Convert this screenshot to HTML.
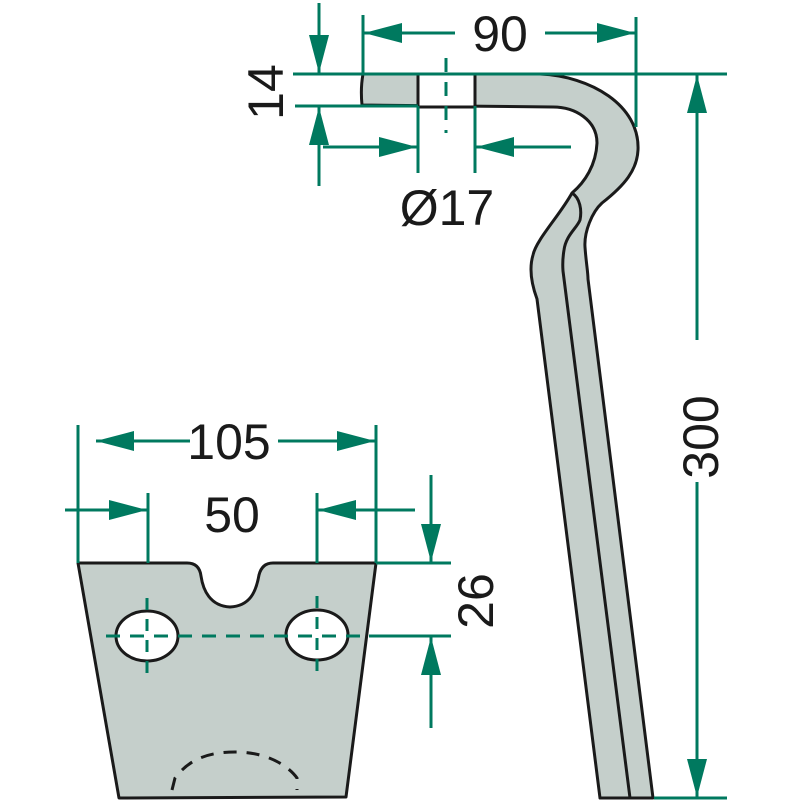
<!DOCTYPE html>
<html><head><meta charset="utf-8"><style>html,body{margin:0;padding:0;background:#fff}svg{display:block}</style></head>
<body>
<svg width="800" height="800" viewBox="0 0 800 800" xmlns="http://www.w3.org/2000/svg">
<defs>
<marker id="a" markerUnits="userSpaceOnUse" markerWidth="40" markerHeight="22" refX="38" refY="10" orient="auto">
<path d="M0,0 L38,10 L0,20 Z" fill="#00795f"/>
</marker>
</defs>
<g fill="#c5cfcb" stroke="#1a1a1a" stroke-width="3" stroke-linejoin="round">
<!-- tine -->
<path d="M363,74 L540,74 C590,76 640,105 638,150 C637,170 625,185 602,203 C592,212 584,232 585,247 C586,262 588,272 588,279 L653,798 L600,798 L537,299 C530,280 530,265 533,255 C536,240 560,215 572,193 C585,182 596,165 597,143 C597,120 575,107 553,107 L362,105 C361,95 361,85 363,74 Z"/>
<path d="M572,193 C580,198 582,210 580,220 C577,228 566,235 564,250 C562,262 563,270 563,271 L630,798" fill="none"/>
<rect x="418" y="74" width="57" height="33" fill="#fff"/>
<!-- plate -->
<path d="M78,563 L187,563 C196,563 200,568 201,576 C203,590 210,606 230,607 C250,606 256,592 259,575 C261,567 266,563 273,563 L376,563 L346,797 L119,798 Z"/>
<ellipse cx="147" cy="636" rx="31" ry="25" fill="#fff"/>
<ellipse cx="317" cy="635" rx="31" ry="25" fill="#fff"/>
</g>
<path d="M172,790 L175,778 C185,765 200,752 235,752 C270,752 290,768 297,778 L297,790" fill="none" stroke="#1a1a1a" stroke-width="3" stroke-dasharray="13,10"/>
<g stroke="#00795f" stroke-width="3" fill="none">
<!-- dashed center lines -->
<path d="M106,636 L362,636" stroke-dasharray="14,10"/>
<path d="M147,598 L147,676 M317,596 L317,676" stroke-dasharray="12,9"/>
<path d="M446,58 L446,133" stroke-dasharray="14,10"/>
<!-- 90 -->
<path d="M363,15 L363,74 M636,17 L636,127"/>
<path d="M455,33 L364,33" marker-end="url(#a)"/>
<path d="M545,33 L635,33" marker-end="url(#a)"/>
<path d="M293,74 L727,74"/>
<path d="M295,106 L418,106"/>
<!-- 14 -->
<path d="M319,3 L319,73" marker-end="url(#a)"/>
<path d="M319,186 L319,107" marker-end="url(#a)"/>
<!-- 17 -->
<path d="M418,106 L418,173 M475,106 L475,173"/>
<path d="M323,147 L417,147" marker-end="url(#a)"/>
<path d="M571,147 L476,147" marker-end="url(#a)"/>
<!-- 300 -->
<path d="M697,340 L697,75" marker-end="url(#a)"/>
<path d="M697,482 L697,797" marker-end="url(#a)"/>
<path d="M654,798 L727,798"/>
<!-- 105 -->
<path d="M78,425 L78,563 M376,425 L376,563"/>
<path d="M190,441 L96,441" marker-end="url(#a)"/>
<path d="M278,441 L375,441" marker-end="url(#a)"/>
<!-- 50 -->
<path d="M148,493 L148,563 M317,493 L317,563"/>
<path d="M65,510 L147,510" marker-end="url(#a)"/>
<path d="M415,510 L318,510" marker-end="url(#a)"/>
<!-- 26 -->
<path d="M376,563 L451,563 M369,636 L451,636"/>
<path d="M431,475 L431,562" marker-end="url(#a)"/>
<path d="M431,728 L431,637" marker-end="url(#a)"/>
</g>
<g font-family="Liberation Sans, sans-serif" font-size="50" fill="#1a1a1a" text-anchor="middle">
<text x="500" y="51">90</text>
<text x="447" y="225">Ø17</text>
<text x="229" y="459">105</text>
<text x="232" y="532">50</text>
<text transform="translate(283,92) rotate(-90)">14</text>
<text transform="translate(718,437) rotate(-90)">300</text>
<text transform="translate(493,601) rotate(-90)">26</text>
</g>
</svg>
</body></html>
